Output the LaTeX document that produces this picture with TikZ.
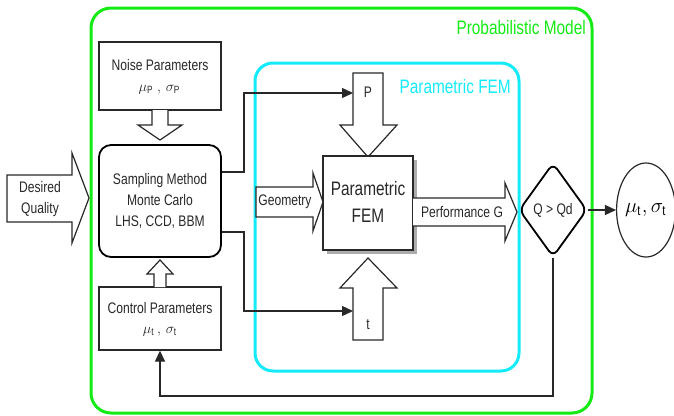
\documentclass[tikz,border=0pt]{standalone}
\usepackage{fontspec}
\setmainfont[FakeStretch=0.79]{Liberation Sans}
\usetikzlibrary{shapes.geometric,arrows.meta,calc}
\definecolor{pgreen}{RGB}{20,235,20}
\definecolor{pcyan}{RGB}{20,235,250}
\definecolor{ink}{RGB}{40,40,40}
\begin{document}
\begin{tikzpicture}[x=1pt,y=-1pt,
 txt/.style={font=\fontsize{15.3}{21}\selectfont, text=ink, align=center, inner sep=0pt},
 big/.style={font=\fontsize{19.5}{27}\selectfont, inner sep=0pt},
 box/.style={draw=ink, line width=1.3pt, fill=white, inner sep=0pt},
 hollow/.style={draw=ink, line width=1.2pt, fill=white, line join=miter},
 conn/.style={draw=ink, line width=1.3pt},
 tipend/.style={-{Triangle[length=11pt,width=10pt]}}
]
\useasboundingbox (0,0) rectangle (674,415);
% frames
\draw[pgreen, line width=3pt, rounded corners=20pt] (91,8) rectangle (592,413);
\draw[pcyan, line width=3pt, rounded corners=18pt] (255,63) rectangle (519,371);
\node[big, text=pgreen, anchor=east] (pmlabel) at (586,28) {Probabilistic Model};
\node[big, text=pcyan, anchor=east] (pflabel) at (511,87) {Parametric FEM};

% named connector ends
\coordinate (pin) at (353,93);
\coordinate (tin) at (353,311);
\coordinate (fb) at (0,396);

% left boxes
\node[box, minimum width=122pt, minimum height=68pt] (noise) at (160,76) {};
\node[txt] (noiset) at (160,65) {Noise Parameters};
\node[txt, font=\fontsize{15}{15}\selectfont] (noisem) at (160,90) {$\mu_{\mathrm{P}}\,,\,\sigma_{\mathrm{P}}$};

\node[box, line width=1.8pt, draw=black, rounded corners=12pt, minimum width=122pt, minimum height=112pt] (samp) at (160,201) {};
\node[txt] (sampt) at (160,201) {Sampling Method\\Monte Carlo\\LHS, CCD, BBM};

\node[box, minimum width=122pt, minimum height=63pt] (ctrl) at (160,318.5) {};
\node[txt] (ctrlt) at (160,308) {Control Parameters};
\node[txt, font=\fontsize{15}{15}\selectfont] (ctrlm) at (160,332) {$\mu_{\mathrm{t}}\,,\,\sigma_{\mathrm{t}}$};

% hollow arrows
\draw[hollow] (7,175) -- (72,175) -- (72,153) -- (89,198) -- (72,243) -- (72,222) -- (7,222) -- cycle;
\node[txt] (dq) at (40,199) {Desired\\Quality};

\draw[hollow] (152,110) -- (152,125) -- (138,125) -- (160,140) -- (182,125) -- (168,125) -- (168,110);
\draw[hollow] (154,287) -- (154,274) -- (147,274) -- (160,260) -- (173,274) -- (166,274) -- (166,287);

% connectors from sampling
\draw[conn, tipend] ([yshift=29pt]samp.east) -- ++(22,0) |- (pin);
\draw[conn, tipend] ([yshift=-31pt]samp.east) -- ++(22,0) |- (tin);

% P and t arrows
\draw[hollow] (353,73) -- (383,73) -- (383,125) -- (397,125) -- (368,157) -- (340,125) -- (353,125) -- cycle;
\node[txt] (plab) at (368,92) {P};
\draw[hollow] (353,340) -- (383,340) -- (383,288) -- (397,288) -- (368,258) -- (340,288) -- (353,288) -- cycle;
\node[txt] (tlab) at (368,325) {t};

% FEM box with shadow
\fill[gray!65] (327,160) rectangle (417,254);
\node[box, minimum width=90pt, minimum height=94pt] (fem) at (368,203) {};
\node[txt, font=\fontsize{19.5}{27}\selectfont] (femt) at (368,202) {Parametric\\FEM};

% geometry / performance
\draw[hollow] (256,187) -- (313,187) -- (313,173) -- (323,202) -- (313,231) -- (313,217) -- (256,217) -- cycle;
\node[txt] (geo) at (285,202) {Geometry};
\draw[hollow] (413,198) -- (505,198) -- (505,183) -- (517,212) -- (505,241) -- (505,226) -- (413,226);
\node[txt] (perf) at (462,212) {Performance G};

% decision and result
\node[diamond, draw=black, line width=1.8pt, rounded corners=7pt, fill=white, minimum width=68pt, minimum height=94pt, inner sep=0pt, txt] (dia) at (553,210) {Q > Qd};
\node[ellipse, draw=ink, line width=1.2pt, minimum width=58pt, minimum height=94pt, inner sep=0pt, font=\fontsize{20}{20}\selectfont] (res) at (646,210) {$\mu_{\mathrm{t}},\sigma_{\mathrm{t}}$};

\draw[conn, tipend] (dia.east) -- (res.west);
\draw[conn, tipend] (dia.south) -- (dia.south |- fb) -| (ctrl.south);
\end{tikzpicture}
\end{document}
